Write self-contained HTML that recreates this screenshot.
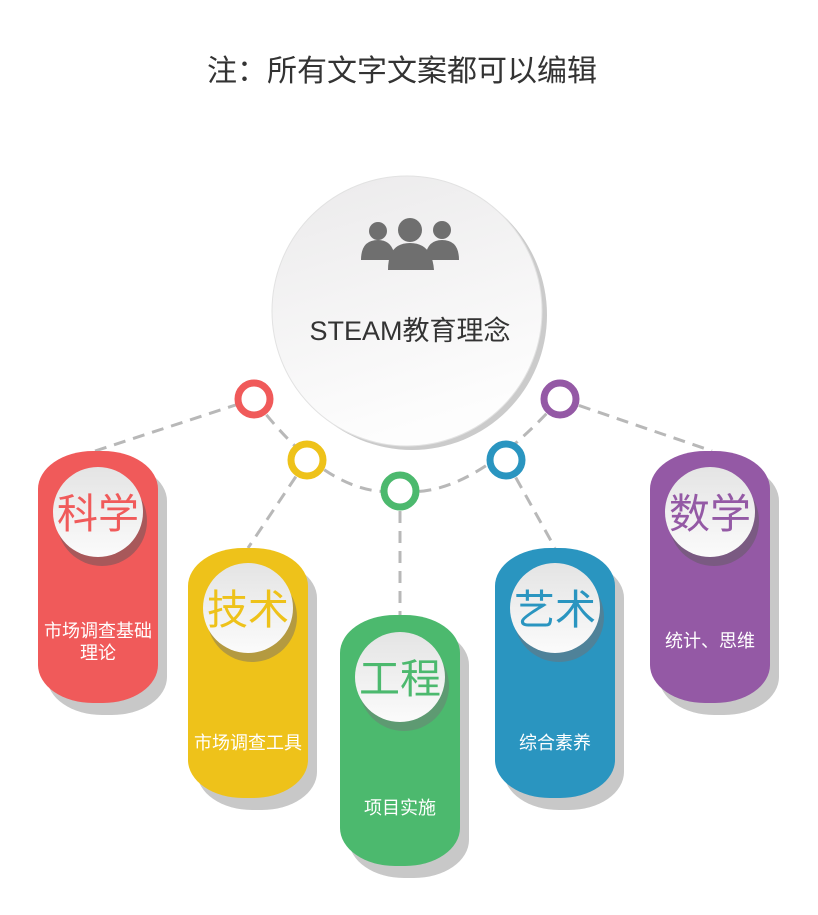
<!DOCTYPE html>
<html><head><meta charset="utf-8"><style>
body{margin:0;background:#fff;}
svg{display:block;font-family:"Liberation Sans","Noto Sans CJK SC",sans-serif;}
</style></head><body>
<svg width="818" height="915" viewBox="0 0 818 915" xmlns="http://www.w3.org/2000/svg">
<defs>
<linearGradient id="cg" x1="0" y1="0" x2="0.3" y2="1"><stop offset="0" stop-color="#ebeaeb"/><stop offset="1" stop-color="#fdfdfd"/></linearGradient>
<linearGradient id="sg" x1="0" y1="0" x2="0" y2="1"><stop offset="0" stop-color="#e4e4e4"/><stop offset="1" stop-color="#fbfbfb"/></linearGradient>
</defs>
<text x="402" y="81" text-anchor="middle" font-size="30" fill="#333">注：所有文字文案都可以编辑</text>

<g fill="none" stroke="#b8b8b8" stroke-width="3" stroke-dasharray="12,8">
<path d="M95 451 L254 399"/>
<path d="M254 399 Q330 500 400 491 Q470 500 560 399"/>
<path d="M307 460 L248 548"/>
<path d="M400 491 L400 615"/>
<path d="M506 460 L555 548"/>
<path d="M560 399 L712 451"/>
</g>

<circle cx="412" cy="315" r="135" fill="#cbcbcb"/>
<circle cx="407" cy="311" r="135" fill="url(#cg)" stroke="#e2e2e2" stroke-width="1"/>
<g fill="#6f6f6f">
<circle cx="378" cy="231" r="9"/><path d="M361 260 Q361 240 378 240 Q394 240 395 260 Z"/>
<circle cx="442" cy="230" r="9"/><path d="M425 260 Q426 240 442 240 Q459 240 459 260 Z"/>
<circle cx="410" cy="230" r="12"/><path d="M388 270 Q388 243 410 243 Q432 243 434 270 Z"/>
</g>
<text x="410" y="340" text-anchor="middle" font-size="27" fill="#333">STEAM教育理念</text>

<g fill="#fff" stroke-width="7">
<circle cx="254" cy="399" r="16" stroke="#f05a5a"/>
<circle cx="307" cy="460" r="16" stroke="#eec21a"/>
<circle cx="400" cy="491" r="16" stroke="#4cb96e"/>
<circle cx="506" cy="460" r="16" stroke="#2a95c0"/>
<circle cx="560" cy="399" r="16" stroke="#9459a5"/>
</g>

<g>
<rect x="47" y="463" width="120" height="252" rx="55" ry="38" fill="#c8c8c8"/>
<rect x="38" y="451" width="120" height="252" rx="55" ry="38" fill="#f05a5a"/>
<circle cx="102" cy="521" r="45" fill="#a8585a"/>
<circle cx="98" cy="512" r="45" fill="url(#sg)"/>
<text x="98" y="528" text-anchor="middle" font-size="41" fill="#f05a5a">科学</text>
<text x="98" y="637" text-anchor="middle" font-size="18" fill="#fff">市场调查基础</text>
<text x="98" y="659" text-anchor="middle" font-size="18" fill="#fff">理论</text>
</g>
<g>
<rect x="197" y="560" width="120" height="250" rx="55" ry="38" fill="#c8c8c8"/>
<rect x="188" y="548" width="120" height="250" rx="55" ry="38" fill="#eec21a"/>
<circle cx="252" cy="617" r="45" fill="#b49a40"/>
<circle cx="248" cy="608" r="45" fill="url(#sg)"/>
<text x="248" y="624" text-anchor="middle" font-size="41" fill="#eec21a">技术</text>
<text x="248" y="749" text-anchor="middle" font-size="18" fill="#fff">市场调查工具</text>
</g>
<g>
<rect x="349" y="627" width="120" height="251" rx="55" ry="38" fill="#c8c8c8"/>
<rect x="340" y="615" width="120" height="251" rx="55" ry="38" fill="#4cb96e"/>
<circle cx="404" cy="686" r="45" fill="#5e9a72"/>
<circle cx="400" cy="677" r="45" fill="url(#sg)"/>
<text x="400" y="693" text-anchor="middle" font-size="41" fill="#4cb96e">工程</text>
<text x="400" y="814" text-anchor="middle" font-size="18" fill="#fff">项目实施</text>
</g>
<g>
<rect x="504" y="560" width="120" height="250" rx="55" ry="38" fill="#c8c8c8"/>
<rect x="495" y="548" width="120" height="250" rx="55" ry="38" fill="#2a95c0"/>
<circle cx="559" cy="617" r="45" fill="#4f8299"/>
<circle cx="555" cy="608" r="45" fill="url(#sg)"/>
<text x="555" y="624" text-anchor="middle" font-size="41" fill="#2a95c0">艺术</text>
<text x="555" y="749" text-anchor="middle" font-size="18" fill="#fff">综合素养</text>
</g>
<g>
<rect x="659" y="463" width="120" height="252" rx="55" ry="38" fill="#c8c8c8"/>
<rect x="650" y="451" width="120" height="252" rx="55" ry="38" fill="#9459a5"/>
<circle cx="714" cy="521" r="45" fill="#7a5a82"/>
<circle cx="710" cy="512" r="45" fill="url(#sg)"/>
<text x="710" y="528" text-anchor="middle" font-size="41" fill="#9459a5">数学</text>
<text x="710" y="647" text-anchor="middle" font-size="18" fill="#fff">统计、思维</text>
</g>
</svg>
</body></html>
